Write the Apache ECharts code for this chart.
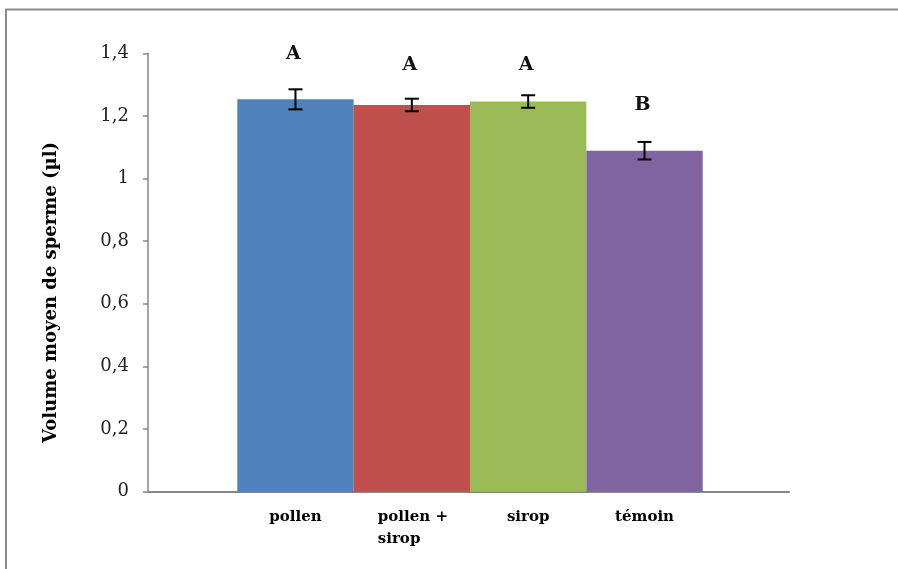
<!DOCTYPE html>
<html>
<head>
<meta charset="utf-8">
<style>html,body{margin:0;padding:0;background:#fff;}#c{width:898px;height:569px;}</style>
<script src="https://cdn.jsdelivr.net/npm/echarts@6/dist/echarts.min.js"></script>
</head>
<body>
<div id="c"></div>
<script>
var categories = ['pollen', 'pollen +\nsirop', 'sirop', 'témoin'];
var means = [1.253, 1.235, 1.246, 1.089];
var errors = [0.032, 0.020, 0.020, 0.028];
var letters = ['A', 'A', 'A', 'B'];
var letterPos = [1.398, 1.363, 1.363, 1.236];
var colors = ['#4F81BD', '#C0504D', '#9BBB59', '#8064A2'];
var yTicks = { min: 0, max: 1.4, interval: 0.2 };

var chart = echarts.init(document.getElementById('c'), null, { renderer: 'canvas' });
var gridTop = 53.3, gridBottom = 77.3;
var option = {
  animation: false,
  backgroundColor: '#fff',
  graphic: [
    { type: 'polyline', shape: { points: [[6, 569], [6, 9.5], [898, 9.5]] }, style: { stroke: '#8c8c8c', lineWidth: 2, fill: null } }
  ],
  grid: [
    { left: 148, right: 109, top: gridTop, bottom: gridBottom },
    { left: 237.3, right: 195.3, top: gridTop, bottom: gridBottom }
  ],
  xAxis: [
    { gridIndex: 0, type: 'category', data: [''], axisLine: { lineStyle: { color: '#868686', width: 2 } }, axisTick: { show: false }, axisLabel: { show: false } },
    { gridIndex: 1, type: 'category', data: categories, boundaryGap: true,
      axisLine: { show: false }, axisTick: { show: false },
      axisLabel: { interval: 0, margin: 14, color: '#000', fontFamily: 'DejaVu Serif', fontWeight: 'bold', fontSize: 15, lineHeight: 22, verticalAlign: 'top',
        formatter: function (v) {
          if (v.indexOf('\n') >= 0) {
            return v.split('\n').map(function (s) { return '{l|' + s + '}'; }).join('\n');
          }
          return v;
        },
        rich: { l: { width: 68, align: 'left', fontFamily: 'DejaVu Serif', fontWeight: 'bold', fontSize: 15, lineHeight: 22, color: '#000' } }
      } }
  ],
  yAxis: [
    { gridIndex: 0, type: 'value', min: yTicks.min, max: yTicks.max, interval: yTicks.interval,
      name: 'Volume moyen de sperme (µl)', nameLocation: 'middle', nameGap: 88, nameRotate: 90,
      nameTextStyle: { fontFamily: 'DejaVu Serif', fontWeight: 'bold', fontSize: 18, color: '#000', padding: [0, 0, 0, -40] },
      axisLine: { show: true, lineStyle: { color: '#868686', width: 1.5 } },
      axisTick: { show: true, length: 5, lineStyle: { color: '#868686', width: 1.5 } },
      splitLine: { show: false },
      axisLabel: { margin: 19, color: '#222', fontFamily: 'DejaVu Serif', fontSize: 18,
        formatter: function (v) { return String(Math.round(v * 10) / 10).replace('.', ','); } } },
    { gridIndex: 1, type: 'value', min: yTicks.min, max: yTicks.max, show: false }
  ],
  series: [
    { type: 'bar', xAxisIndex: 1, yAxisIndex: 1, barCategoryGap: '0%', barWidth: '100%',
      data: means.map(function (v, i) { return { value: v, itemStyle: { color: colors[i] } }; }) },
    { type: 'custom', xAxisIndex: 1, yAxisIndex: 1, z: 10,
      data: means.map(function (v, i) { return [i, v - errors[i], v + errors[i], letterPos[i]]; }),
      renderItem: function (params, api) {
        var i = api.value(0);
        var lo = api.coord([i, api.value(1)]);
        var hi = api.coord([i, api.value(2)]);
        var lp = api.coord([i, api.value(3)]);
        var x = lo[0], hw = 7;
        var st = { stroke: '#000', lineWidth: 2 };
        return { type: 'group', children: [
          { type: 'line', shape: { x1: x, y1: lo[1], x2: x, y2: hi[1] }, style: st },
          { type: 'line', shape: { x1: x - hw, y1: lo[1], x2: x + hw, y2: lo[1] }, style: st },
          { type: 'line', shape: { x1: x - hw, y1: hi[1], x2: x + hw, y2: hi[1] }, style: st },
          { type: 'text', x: x - 2, y: lp[1], style: { text: letters[params.dataIndex], fill: '#111', font: 'bold 19px "DejaVu Serif"', align: 'center', verticalAlign: 'middle' } }
        ] };
      } }
  ]
};
chart.setOption(option);
</script>
</body>
</html>
